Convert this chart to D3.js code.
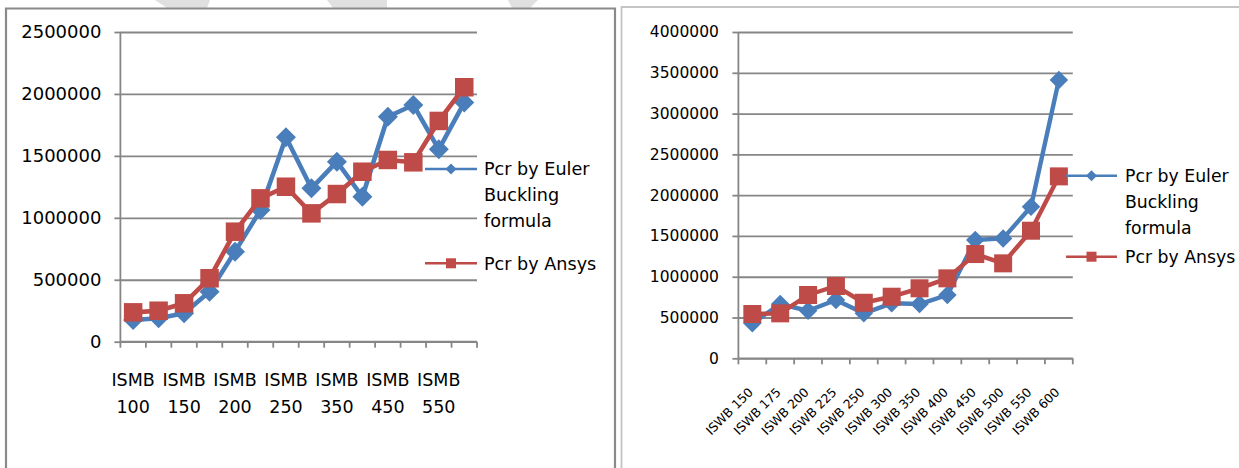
<!DOCTYPE html>
<html>
<head>
<meta charset="utf-8">
<script src="https://cdn.jsdelivr.net/npm/d3@7"></script>
<style>
  html, body { margin: 0; padding: 0; background: #fff; }
  svg { display: block; }
  text { font-family: "DejaVu Sans", sans-serif; fill: #000; }
</style>
</head>
<body>
<svg id="chart" width="1239" height="468"></svg>
<script>
// ---------- DATA ----------
const ismbCategories = ["ISMB 100","ISMB 125","ISMB 150","ISMB 175","ISMB 200","ISMB 225","ISMB 250","ISMB 300","ISMB 350","ISMB 400","ISMB 450","ISMB 500","ISMB 550","ISMB 600"];
const ismbEuler = [175000,189000,229000,404000,727000,1063000,1650000,1238000,1453000,1170000,1816000,1911000,1553000,1930000];
const ismbAnsys = [237000,250000,310000,512000,888000,1157000,1251000,1036000,1192000,1372000,1467000,1448000,1782000,2054000];
const ismbTicks = [0,500000,1000000,1500000,2000000,2500000];
const ismbShownLabels = ["ISMB 100","ISMB 150","ISMB 200","ISMB 250","ISMB 350","ISMB 450","ISMB 550"];

const iswbCategories = ["ISWB 150","ISWB 175","ISWB 200","ISWB 225","ISWB 250","ISWB 300","ISWB 350","ISWB 400","ISWB 450","ISWB 500","ISWB 550","ISWB 600"];
const iswbEuler = [429000,665000,583000,714000,551000,674000,665000,776000,1450000,1470000,1858000,3411000];
const iswbAnsys = [543000,551000,776000,886000,681000,755000,858000,980000,1278000,1164000,1564000,2230000];
const iswbTicks = [0,500000,1000000,1500000,2000000,2500000,3000000,3500000,4000000];

const seriesNames = ["Pcr by Euler Buckling formula", "Pcr by Ansys"];
const legendLines = [["Pcr by Euler","Buckling","formula"],["Pcr by Ansys"]];

// ---------- STYLE ----------
const BLUE = "#4a7ebb", RED = "#be4b48", GRID = "#868686";

const svg = d3.select("#chart");

// watermark shapes at top
const wm = [
  [[155,0],[210,0],[207,8],[167,8]],
  [[327,0],[387,0],[387,8],[333,8]],
  [[508,0],[538,0],[530,8],[512,8]]
];
svg.selectAll("polygon.wm").data(wm).enter().append("polygon")
  .attr("points", d => d.map(p => p.join(",")).join(" "))
  .attr("fill", "#e0e0e0");

// frames
svg.append("path").attr("d","M6,470 L6,8.5 L615,8.5 L615,470")
  .attr("fill","none").attr("stroke","#8a8a8a").attr("stroke-width",2.2);
svg.append("path").attr("d","M621.5,470 L621.5,7 L1239,7")
  .attr("fill","none").attr("stroke","#c4c4c4").attr("stroke-width",1.8);

function diamondPath(s){ const h=s/2; return `M0,${-h}L${h},0L0,${h}L${-h},0Z`; }
function squarePath(s){ const h=s/2; return `M${-h},${-h}H${h}V${h}H${-h}Z`; }

function drawChart(cfg){
  const g = svg.append("g");
  const x = d3.scaleBand().domain(cfg.categories).range([cfg.x0, cfg.x1]).padding(0);
  const y = d3.scaleLinear().domain([0, cfg.yMax]).range([cfg.yBottom, cfg.yTop]);

  // gridlines
  const grid = g.append("g").attr("transform",`translate(${cfg.x0},0)`)
    .call(d3.axisLeft(y).tickValues(cfg.ticks).tickSize(-(cfg.x1-cfg.x0)).tickFormat(""));
  grid.select(".domain").remove();
  grid.selectAll("line").attr("stroke",GRID).attr("stroke-width",1.8);

  // y axis
  const ya = g.append("g").attr("transform",`translate(${cfg.x0},0)`)
    .call(d3.axisLeft(y).tickValues(cfg.ticks).tickSize(6).tickPadding(cfg.yPad).tickFormat(d3.format("d")));
  ya.select(".domain").attr("stroke",GRID).attr("stroke-width",1.8).attr("d",`M0,${cfg.yBottom}V${cfg.yTop}`);
  ya.selectAll("line").attr("stroke",GRID).attr("stroke-width",1.8);
  ya.selectAll("text").attr("font-family","DejaVu Sans").attr("font-size",cfg.yFont).attr("fill","#000");

  // x axis: ticks at band boundaries
  const xa = g.append("g");
  xa.append("line").attr("x1",cfg.x0).attr("x2",cfg.x1).attr("y1",cfg.yBottom).attr("y2",cfg.yBottom)
    .attr("stroke",GRID).attr("stroke-width",1.8);
  const bounds = cfg.categories.map(c => x(c)).concat([cfg.x1]);
  xa.selectAll("line.t").data(bounds).enter().append("line")
    .attr("x1",d=>d).attr("x2",d=>d).attr("y1",cfg.yBottom).attr("y2",cfg.yBottom+6)
    .attr("stroke",GRID).attr("stroke-width",1.8);

  cfg.xLabels(g, x);

  // series
  const series = [
    {vals: cfg.euler, color: BLUE, shape: diamondPath(cfg.diamond)},
    {vals: cfg.ansys, color: RED, shape: squarePath(cfg.square)}
  ];
  const line = d3.line().x((d,i)=>x(cfg.categories[i])+x.bandwidth()/2).y(d=>y(d));
  series.forEach(s => {
    g.append("path").datum(s.vals).attr("d",line).attr("fill","none")
      .attr("stroke",s.color).attr("stroke-width",cfg.lineW).attr("stroke-linejoin","round");
    g.selectAll(null).data(s.vals).enter().append("path")
      .attr("d",s.shape)
      .attr("transform",(d,i)=>`translate(${x(cfg.categories[i])+x.bandwidth()/2},${y(d)})`)
      .attr("fill",s.color);
  });

  // legend
  const lg = g.append("g");
  const legItems = [
    {color: BLUE, shape: diamondPath(11), y: cfg.legY[0], lines: legendLines[0]},
    {color: RED, shape: squarePath(10), y: cfg.legY[1], lines: legendLines[1]}
  ];
  legItems.forEach(it => {
    lg.append("line").attr("x1",cfg.legX0).attr("x2",cfg.legX1).attr("y1",it.y).attr("y2",it.y)
      .attr("stroke",it.color).attr("stroke-width",2.4);
    lg.append("path").attr("d",it.shape)
      .attr("transform",`translate(${(cfg.legX0+cfg.legX1)/2},${it.y})`).attr("fill",it.color);
    it.lines.forEach((t,k) => {
      lg.append("text").attr("x",cfg.legTextX).attr("y",it.y + k*cfg.legLH)
        .attr("dy","0.36em").attr("font-size",cfg.legFont).text(t);
    });
  });
}

// Left chart (ISMB)
drawChart({
  categories: ismbCategories, euler: ismbEuler, ansys: ismbAnsys, ticks: ismbTicks,
  yMax: 2500000, x0: 120.4, x1: 477, yTop: 32, yBottom: 341.7,
  yPad: 13, yFont: "18px", diamond: 20, square: 18.5, lineW: 4.6,
  legX0: 425, legX1: 477, legY: [169, 263.3], legTextX: 484, legLH: 25.9, legFont: "17.6px",
  xLabels: (g, x) => {
    const lab = g.append("g");
    ismbShownLabels.forEach(c => {
      const cx = x(c) + x.bandwidth()/2;
      const parts = c.split(" ");
      lab.append("text").attr("x",cx).attr("y",380).attr("dy","0.36em")
        .attr("text-anchor","middle").attr("font-size","17.5px").text(parts[0]);
      lab.append("text").attr("x",cx).attr("y",406.5).attr("dy","0.36em")
        .attr("text-anchor","middle").attr("font-size","17.5px").text(parts[1]);
    });
  }
});

// Right chart (ISWB)
drawChart({
  categories: iswbCategories, euler: iswbEuler, ansys: iswbAnsys, ticks: iswbTicks,
  yMax: 4000000, x0: 738.4, x1: 1072.8, yTop: 32, yBottom: 358.3,
  yPad: 13.5, yFont: "15.5px", diamond: 18.5, square: 18, lineW: 4.4,
  legX0: 1066, legX1: 1117, legY: [175.7, 256.7], legTextX: 1125, legLH: 26.2, legFont: "17.3px",
  xLabels: (g, x) => {
    g.append("g").selectAll("text").data(iswbCategories).enter().append("text")
      .attr("transform", d => `translate(${x(d)+x.bandwidth()/2+1.5},393) rotate(-45)`)
      .attr("text-anchor","end").attr("font-size","12.5px").text(d => d);
  }
});
</script>
</body>
</html>
